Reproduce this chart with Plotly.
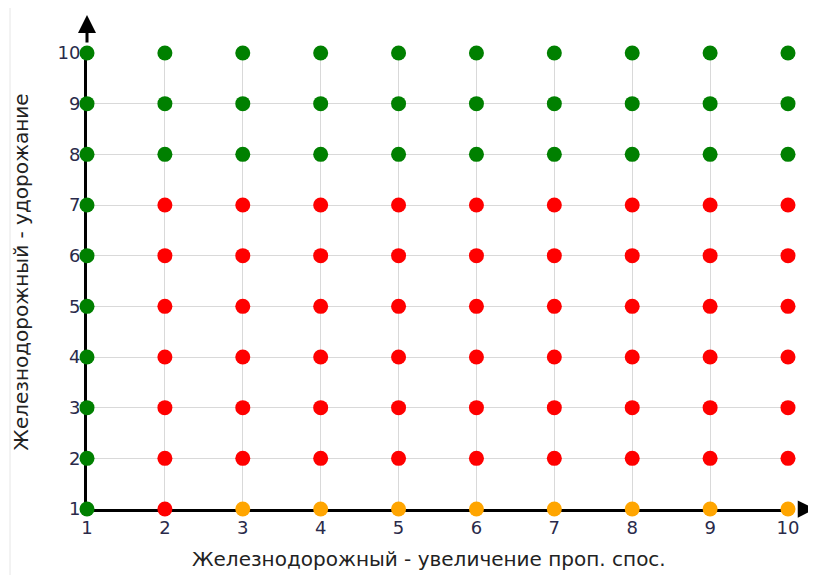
import plotly.graph_objects as go

x_vals = [1, 2, 3, 4, 5, 6, 7, 8, 9, 10]
y_vals = [1, 2, 3, 4, 5, 6, 7, 8, 9, 10]
# status per row (y = 1..10), columns x = 1..10: G=green, R=red, O=orange
status_rows = [
    "GROOOOOOOO",  # y=1
    "GRRRRRRRRR",  # y=2
    "GRRRRRRRRR",  # y=3
    "GRRRRRRRRR",  # y=4
    "GRRRRRRRRR",  # y=5
    "GRRRRRRRRR",  # y=6
    "GRRRRRRRRR",  # y=7
    "GGGGGGGGGG",  # y=8
    "GGGGGGGGGG",  # y=9
    "GGGGGGGGGG",  # y=10
]
x_title = "Железнодорожный - увеличение проп. спос."
y_title = "Железнодорожный - удорожание"
color_map = {"G": "#008000", "R": "#ff0000", "O": "#ffa500"}

xs, ys, cs = [], [], []
for yi, row in zip(y_vals, status_rows):
    for xi, s in zip(x_vals, row):
        xs.append(xi)
        ys.append(yi)
        cs.append(color_map[s])

fig = go.Figure()
fig.add_trace(go.Scatter(
    x=xs, y=ys, mode="markers",
    marker=dict(size=15, color=cs, line=dict(width=0)),
    cliponaxis=False, hoverinfo="x+y", showlegend=False,
))

font = "DejaVu Sans, sans-serif"
fig.update_layout(
    width=808, height=567,
    margin=dict(l=79, r=28, t=45, b=66, autoexpand=False),
    plot_bgcolor="white", paper_bgcolor="white",
    font=dict(family=font, size=18, color="#222222"),
    xaxis=dict(
        range=[1, 10], tickvals=x_vals, showgrid=True, gridcolor="#d9d9d9", gridwidth=1,
        zeroline=False, showline=True, linecolor="black", linewidth=3, layer="below traces",
        ticks="", tickfont=dict(size=18, color="#2a2a4a"), ticklabelstandoff=0, automargin=False,
    ),
    yaxis=dict(
        range=[1, 10], tickvals=y_vals, showgrid=True, gridcolor="#d9d9d9", gridwidth=1,
        zeroline=False, showline=True, linecolor="black", linewidth=3, layer="below traces",
        ticks="", tickfont=dict(size=18, color="#2a2a4a"), ticklabelstandoff=0, automargin=False,
    ),
)

# axis titles
fig.add_annotation(text=x_title, xref="paper", yref="paper", x=0.488, y=-0.11,
                   xanchor="center", yanchor="middle", showarrow=False,
                   font=dict(size=20, color="#222222", family=font))
fig.add_annotation(text=y_title, xref="paper", yref="paper", x=-0.0945, y=0.52,
                   xanchor="center", yanchor="middle", showarrow=False, textangle=-90,
                   font=dict(size=20, color="#222222", family=font))

# axis arrowheads
fig.add_annotation(x=1.04, y=0, xref="paper", yref="paper", ax=-19, ay=0, axref="pixel", ayref="pixel",
                   showarrow=True, arrowhead=2, arrowsize=1.15, arrowwidth=3, arrowcolor="black", text="")
fig.add_annotation(x=0, y=1.0833, xref="paper", yref="paper", ax=0, ay=29, axref="pixel", ayref="pixel",
                   showarrow=True, arrowhead=2, arrowsize=1.2, arrowwidth=3, arrowcolor="black", text="")

# thin border line at left edge of the image
fig.add_shape(type="line", xref="paper", yref="paper", x0=-0.1098, x1=-0.1098, y0=-0.15, y1=1.1,
              line=dict(color="#e6e6e6", width=1))

fig.write_html("out.html")
